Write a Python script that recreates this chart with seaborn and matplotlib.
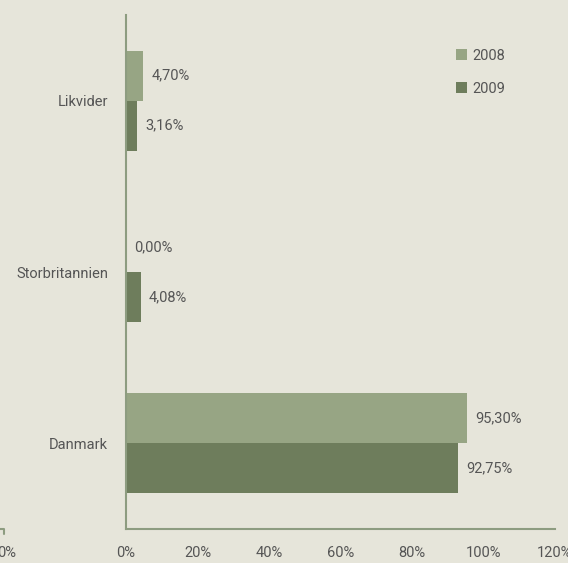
import matplotlib
matplotlib.use("Agg")
import matplotlib.pyplot as plt
import seaborn as sns
import pandas as pd

# data
categories = ["Likvider", "Storbritannien", "Danmark"]
years = ["2008", "2009"]
vals_2008 = [4.70, 0.00, 95.30]
vals_2009 = [3.16, 4.08, 92.75]
x_ticks = [0, 20, 40, 60, 80, 100, 120]

bg = "#e6e5da"
c08 = "#97a584"
c09 = "#6e7d5c"
axis_col = "#8d9c80"
txt_col = "#555555"
fs = 10.5

df = pd.DataFrame({
    "cat": categories * 2,
    "year": [years[0]] * 3 + [years[1]] * 3,
    "val": vals_2008 + vals_2009,
})

sns.set_style("white")
plt.rcParams["font.family"] = ["Roboto", "DejaVu Sans"]
plt.rcParams["text.color"] = txt_col

fig = plt.figure(figsize=(5.68, 5.63), dpi=100, facecolor=bg)
ax = fig.add_axes([126 / 568, 1 - 529 / 563, (555 - 126) / 568, (529 - 15) / 563])
ax.set_facecolor(bg)

sns.barplot(data=df, y="cat", x="val", hue="year", order=categories,
            hue_order=years, palette=[c08, c09], orient="h", width=0.585,
            saturation=1, linewidth=0, ax=ax)

# value labels
for cont in ax.containers:
    ax.bar_label(cont, labels=[f"{v:.2f}%".replace(".", ",") for v in cont.datavalues],
                 padding=6, fontsize=fs, color=txt_col)

ax.set_xlim(0, 120)
ax.set_ylim(2.5, -0.5)
ax.set_xticks(x_ticks)
ax.set_xticklabels([f"{t}%" for t in x_ticks])
ax.set_yticks([0, 1, 2])
ax.set_yticklabels(categories)
ax.set_yticks([-0.5, 0.5, 1.5, 2.5], minor=True)
ax.tick_params(axis="y", which="major", length=0, pad=13, labelsize=fs, labelcolor=txt_col)
ax.tick_params(axis="y", which="minor", length=5, width=1.5, color=axis_col, direction="out")
ax.tick_params(axis="x", length=5, width=1.5, color=axis_col, direction="out",
               pad=7, labelsize=fs, labelcolor=txt_col)
ax.set_xlabel("")
ax.set_ylabel("")
for s in ["top", "right"]:
    ax.spines[s].set_visible(False)
for s in ["left", "bottom"]:
    ax.spines[s].set_color(axis_col)
    ax.spines[s].set_linewidth(1.5)

leg = ax.legend(loc="upper right", bbox_to_anchor=(0.915, 0.96), frameon=False,
                fontsize=fs, handlelength=0.75, handleheight=0.75,
                handletextpad=0.35, labelspacing=1.3, title=None)
for t in leg.get_texts():
    t.set_color(txt_col)

# clipped remnant of a neighbouring chart at the left edge
fig.add_artist(plt.Line2D([0, 4 / 568, 4 / 568], [1 - 529 / 563, 1 - 529 / 563, 1 - 534 / 563],
                          color=axis_col, lw=1.5, transform=fig.transFigure))
fig.text(-3 / 568, 1 - 553 / 563, "0%", ha="left", va="center", fontsize=fs, color=txt_col)

fig.savefig("out.png", dpi=100, facecolor=bg)
